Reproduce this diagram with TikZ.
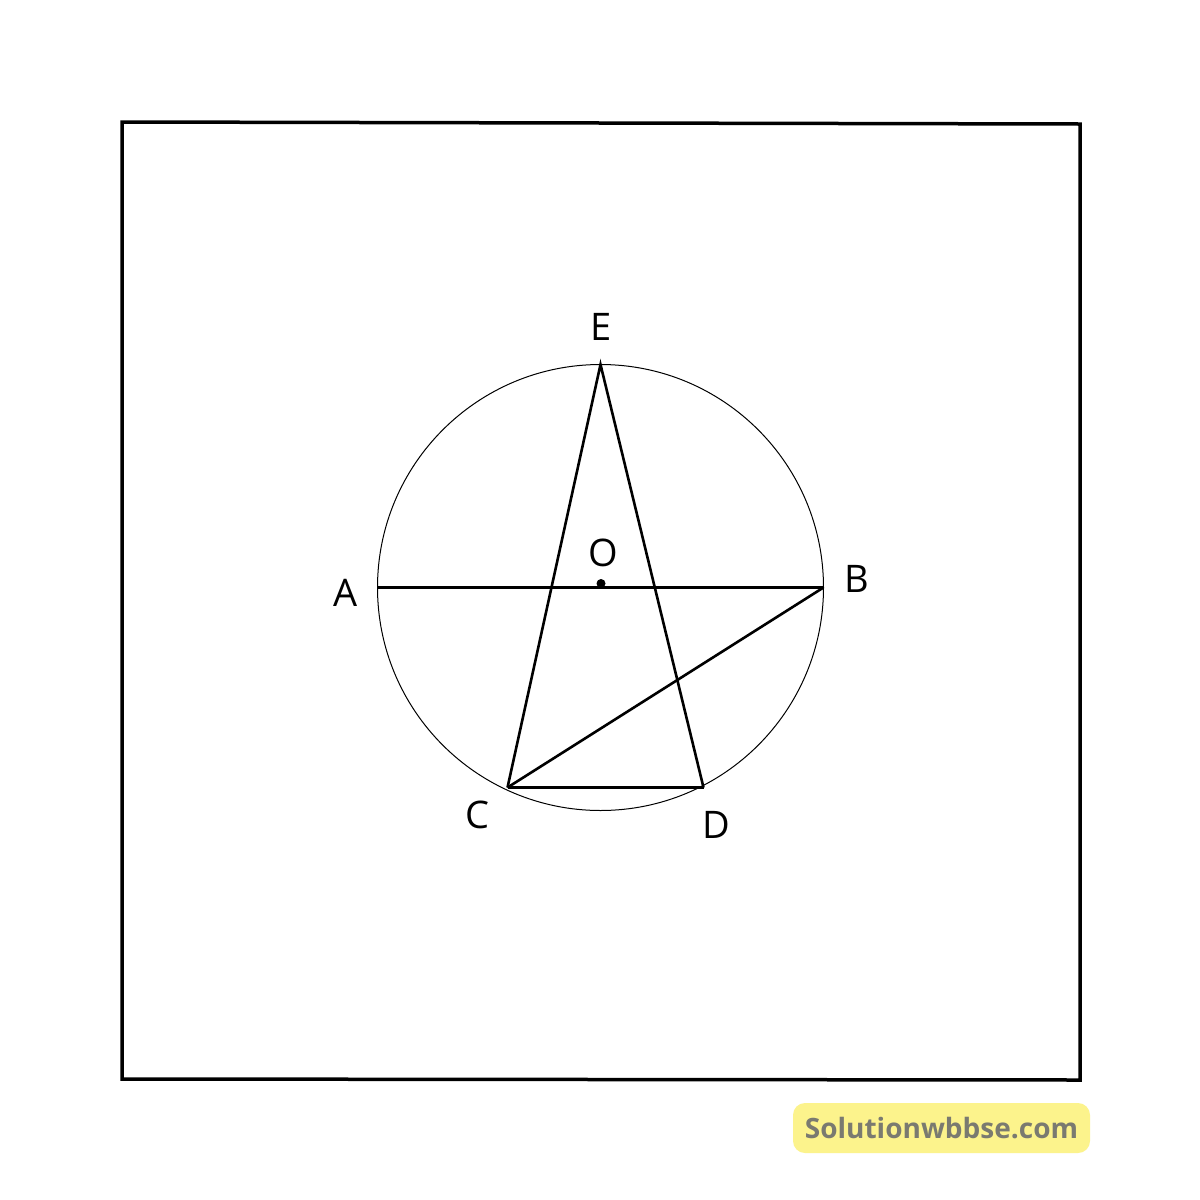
\documentclass[tikz,border=0pt]{standalone}
\usepackage{fontspec}
\setmainfont{Open Sans}
\definecolor{wmfill}{RGB}{252,243,140}
\definecolor{wmtext}{RGB}{122,122,112}
\begin{document}
\begin{tikzpicture}[x=1pt,y=-1pt,
  frame/.style={line width=3.5pt},
  seg/.style={line width=2.6pt},
  lbl/.style={font=\fontsize{38}{38}\selectfont, inner sep=0pt}]
\useasboundingbox[fill=white] (0,0) rectangle (1200,1200);
% frame
\draw[frame] (122,122) -- (1080,124) -- (1080,1080) -- (122,1079) -- cycle;
% points
\coordinate (O) at (600.5,587.5);
\coordinate (E) at (600.5,364.5);
\coordinate (A) at (377.5,587.5);
\coordinate (B) at (823.5,587.5);
\coordinate (C) at (507.5,787.5);
\coordinate (D) at (703.5,787.5);
\draw[line width=1pt] (O) circle (223);
\draw[seg] (A) -- (B);
\draw[seg,line join=miter] (C) -- (E) -- (D);
\draw[seg] (C) -- (B);
\draw[seg] (C) -- (D);
\fill (601,583.5) circle (4.5);
% labels
\node[lbl] (lE) at (601,327) {E};
\node[lbl] (lO) at (603,553) {O};
\node[lbl] (lA) at (346,593) {A};
\node[lbl] (lB) at (857,579) {B};
\node[lbl] (lC) at (477,815) {C};
\node[lbl] (lD) at (716,825) {D};
% watermark
\node[fill=wmfill, rounded corners=12pt, minimum width=297pt, minimum height=50pt, inner sep=0pt,
  text=wmtext, font=\fontsize{28}{28}\selectfont\bfseries] (wm) at (941.5,1128) {Solutionwbbse.com};
\end{tikzpicture}
\end{document}
